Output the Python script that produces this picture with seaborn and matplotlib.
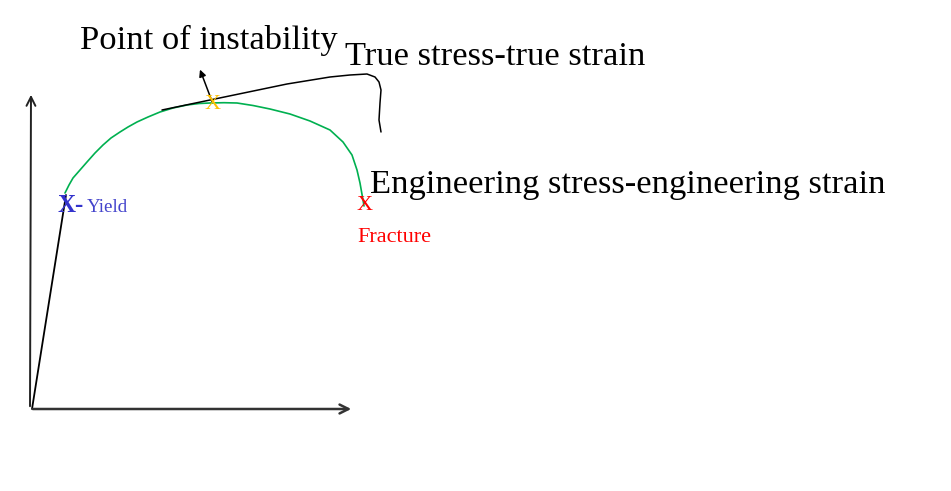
import matplotlib
matplotlib.use("Agg")
import matplotlib.pyplot as plt
import pandas as pd
import seaborn as sns

# sketch of a stress-strain diagram, units are arbitrary (drawing units from origin)
eng_strain = [34, 38, 42, 49, 56, 64, 72, 80, 89, 97, 106, 117, 129, 142, 156, 168, 179, 193,
              206, 222, 239, 259, 279, 299, 312, 321, 326, 329, 332, 333]
eng_stress = [216, 224, 231, 239, 247, 256, 264, 271, 277, 282, 287, 292, 297, 301, 304, 305.5,
              306, 306.3, 306, 303.5, 300, 295, 288, 279, 267, 254, 239, 226, 209, 203]

elastic_strain = [1, 35]
elastic_stress = [0, 214]

true_strain = [131, 179, 256, 299, 319, 336, 344, 348, 350, 349, 348, 350]
true_stress = [299, 309, 325, 332, 334, 335, 332, 327, 319, 306, 289, 277]

yield_pt = (34, 204)
instability_pt = (182, 305)
fracture_pt = (334, 204)

sns.set_theme(style="white")
plt.rcParams["font.family"] = ["Liberation Serif", "DejaVu Serif"]

fig = plt.figure(figsize=(9.51, 4.91), dpi=100)
ax = fig.add_axes([0, 0, 1, 1])
ax.set_xlim(-31, 920)
ax.set_ylim(-82, 409)
ax.axis("off")

eng = pd.DataFrame({"strain": eng_strain, "stress": eng_stress})
elastic = pd.DataFrame({"strain": elastic_strain, "stress": elastic_stress})
true = pd.DataFrame({"strain": true_strain, "stress": true_stress})

line_kw = dict(sort=False, estimator=None, solid_joinstyle="round", solid_capstyle="round", ax=ax)
sns.lineplot(data=eng, x="strain", y="stress", color="#00B050", linewidth=1.2, **line_kw)
sns.lineplot(data=elastic, x="strain", y="stress", color="black", linewidth=1.3, **line_kw)
sns.lineplot(data=true, x="strain", y="stress", color="black", linewidth=1.1, **line_kw)

# axes arrows
ax.annotate("", xy=(0, 317), xytext=(-1, 0),
            arrowprops=dict(arrowstyle="->", color="#222222", lw=1.4, mutation_scale=16))
ax.annotate("", xy=(323, 0), xytext=(-1, 0),
            arrowprops=dict(arrowstyle="->", color="#333333", lw=1.8, mutation_scale=16))

# arrow from point of instability
ax.annotate("", xy=(168, 342), xytext=instability_pt,
            arrowprops=dict(arrowstyle="-|>", color="black", lw=1.1, mutation_scale=10))

# markers
ax.text(instability_pt[0], instability_pt[1], "X", color="#FFC000", fontsize=16,
        ha="center", va="center")
ax.text(fracture_pt[0], fracture_pt[1], "X", color="#FF0000", fontsize=16,
        ha="center", va="center")
ax.text(27, 197, "X-", color="#3333CC", fontsize=18, fontweight="bold", ha="left", va="baseline")
ax.text(56, 197, "Yield", color="#4444CC", fontsize=13.7, ha="left", va="baseline")
ax.text(326, 167, "Fracture", color="#FF0000", fontsize=16, ha="left", va="baseline")

# labels
ax.text(49, 360, "Point of instability", color="black", fontsize=24.8, ha="left", va="baseline")
ax.text(314, 344, "True stress-true strain", color="black", fontsize=24.8, ha="left", va="baseline")
ax.text(339, 216, "Engineering stress-engineering strain", color="black", fontsize=24.8,
        ha="left", va="baseline")

fig.savefig("out.png", dpi=100)
